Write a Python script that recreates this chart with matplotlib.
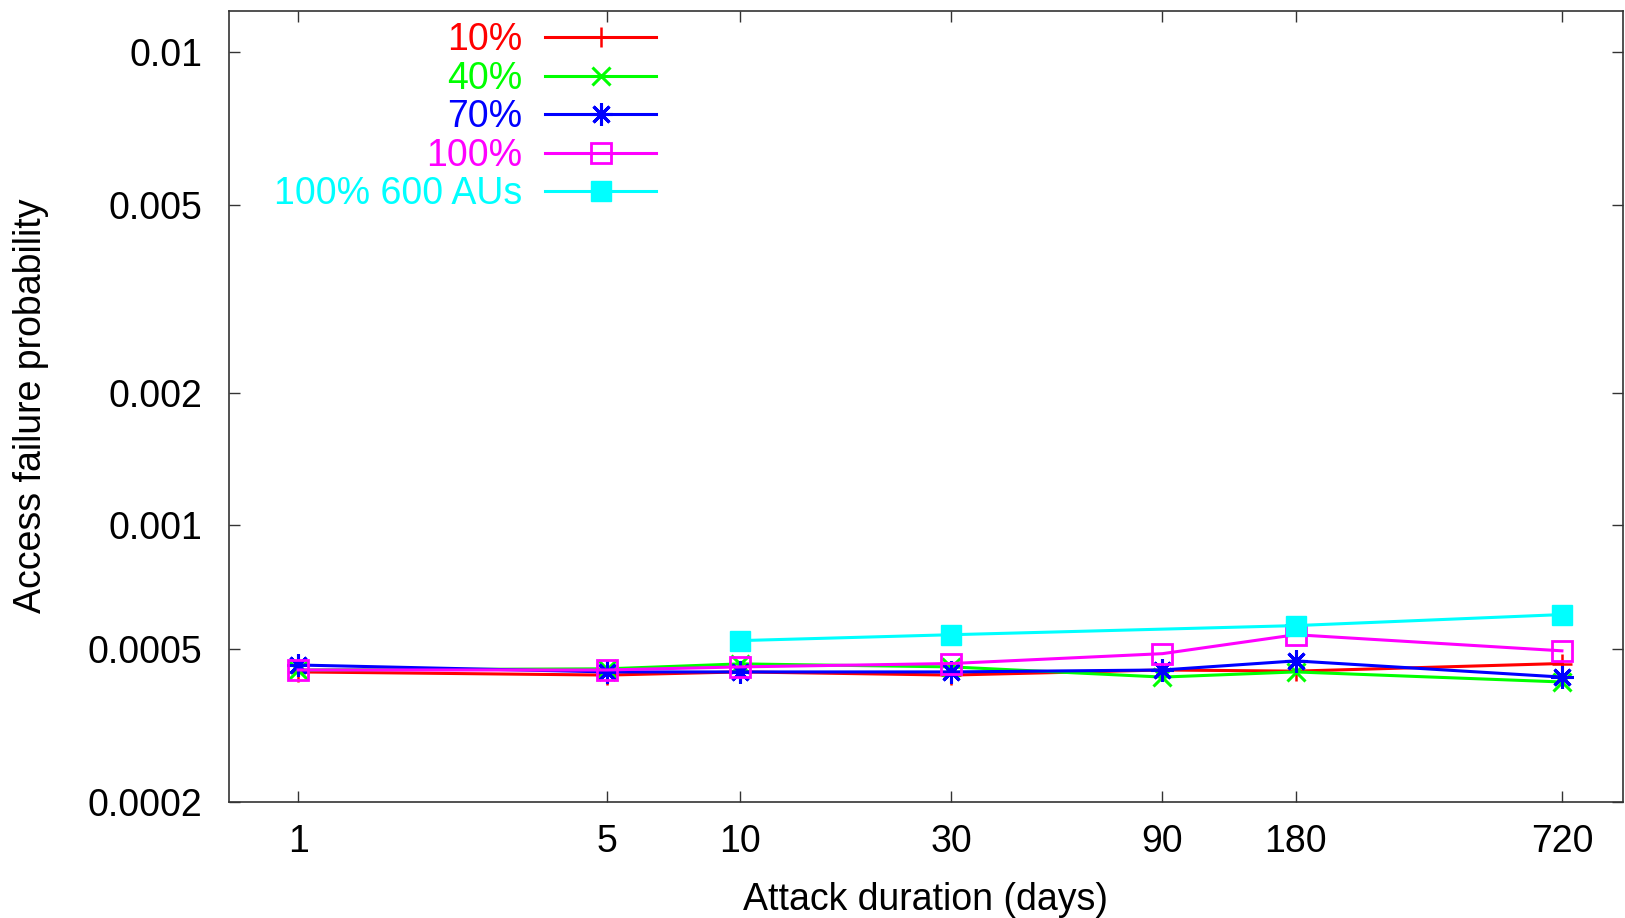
import numpy as np
import matplotlib
matplotlib.use('Agg')
from matplotlib import pyplot as plt
from matplotlib.ticker import FixedLocator, FixedFormatter, NullLocator

plt.rcParams['font.family'] = ['Liberation Sans', 'DejaVu Sans']

# attack duration (days)
days = [1, 5, 10, 30, 90, 180, 720]
days_600 = [10, 30, 180, 720]

# access failure probability
p10 = [4.38e-4, 4.30e-4, 4.38e-4, 4.30e-4, 4.43e-4, 4.40e-4, 4.60e-4]
p40 = [4.43e-4, 4.46e-4, 4.59e-4, 4.51e-4, 4.25e-4, 4.38e-4, 4.13e-4]
p70 = [4.56e-4, 4.38e-4, 4.38e-4, 4.38e-4, 4.43e-4, 4.67e-4, 4.25e-4]
p100 = [4.43e-4, 4.43e-4, 4.51e-4, 4.60e-4, 4.87e-4, 5.43e-4, 4.95e-4]
p100_600 = [5.25e-4, 5.43e-4, 5.72e-4, 6.09e-4]

ytick_vals = [0.0002, 0.0005, 0.001, 0.002, 0.005, 0.01]
ytick_labels = ['0.0002', '0.0005', '0.001', '0.002', '0.005', '0.01']

FS = 27
PW = 0.09  # the y axis is squeezed, roughly y**0.09

fig = plt.figure(figsize=(16.25, 9.18), dpi=100)
ax = fig.add_axes([229/1625, 1-801.7/918, (1622.7-229)/1625, (801.7-10.5)/918])

ax.set_xscale('log')
ax.set_yscale('function', functions=(lambda y: np.power(np.clip(y, 1e-12, None), PW),
                                      lambda v: np.power(np.clip(v, 1e-12, None), 1.0/PW)))

ms = 14
ax.plot(days, p10, color='#ff0000', lw=2.2, marker='+', ms=ms, mew=1.8, label='10%')
ax.plot(days, p40, color='#00ff00', lw=2.2, marker='x', ms=ms*0.9, mew=2.2, label='40%')
ax.plot(days, p70, color='#0000ff', lw=2.2, marker=(8, 2, 0), ms=ms*1.15, mew=2.2, label='70%')
ax.plot(days, p100, color='#ff00ff', lw=2.2, marker='s', ms=ms, mfc='none', mew=2, label='100%')
ax.plot(days_600, p100_600, color='#00ffff', lw=2.2, marker='s', ms=ms, label='100% 600 AUs')

ax.set_xlim(0.698, 988)
ax.set_ylim(0.0002, 0.01201)

ax.xaxis.set_major_locator(FixedLocator(days))
ax.xaxis.set_major_formatter(FixedFormatter([str(d) for d in days]))
ax.xaxis.set_minor_locator(NullLocator())
ax.yaxis.set_major_locator(FixedLocator(ytick_vals))
ax.yaxis.set_major_formatter(FixedFormatter(ytick_labels))
ax.yaxis.set_minor_locator(NullLocator())

ax.tick_params(which='major', direction='in', length=8, width=1, top=True, right=True,
               labelsize=FS, color='#333333')
ax.tick_params(axis='y', pad=19)
ax.tick_params(axis='x', pad=16)
for s in ax.spines.values():
    s.set_linewidth(1.2)
    s.set_color('#333333')

ax.set_xlabel('Attack duration (days)', fontsize=FS, labelpad=16)
ax.set_ylabel('Access failure probability', fontsize=FS, labelpad=28)

leg = ax.legend(loc='upper right', bbox_to_anchor=(656/1625, 1-22/918), bbox_transform=fig.transFigure,
                frameon=False, fontsize=FS, markerfirst=False, numpoints=1,
                handlelength=2.95, handletextpad=0.62, labelspacing=0.07,
                borderpad=0, borderaxespad=0, labelcolor='linecolor')

fig.savefig('out.png', dpi=100)
